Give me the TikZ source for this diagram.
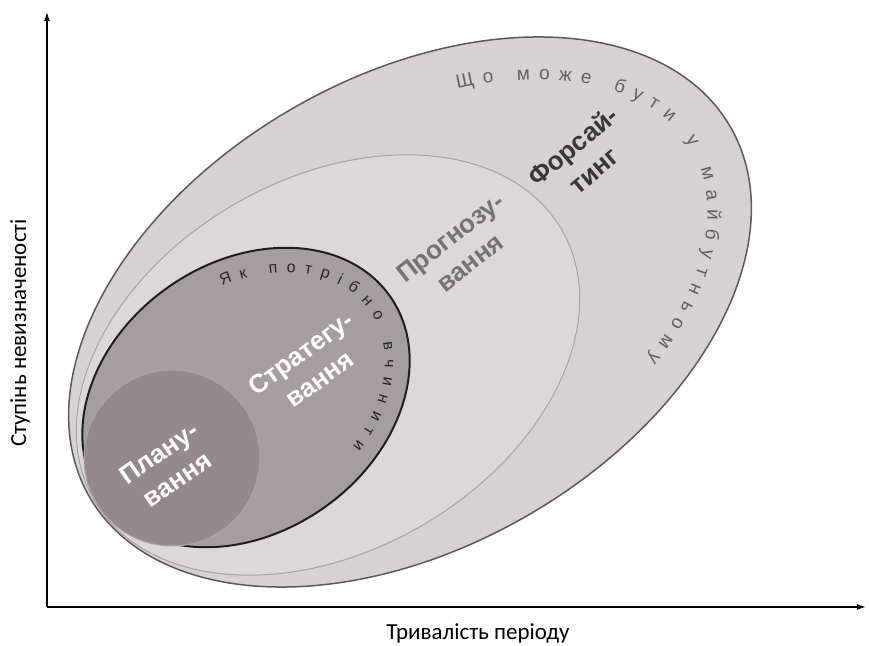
\documentclass[tikz,border=0pt]{standalone}
\usepackage{fontspec}
\setmainfont{Liberation Sans}
\newfontfamily\axisfont{Carlito}
\usetikzlibrary{arrows.meta,decorations.text}
\definecolor{outerfill}{HTML}{D6D2D3}
\definecolor{outerline}{HTML}{5A5A5A}
\definecolor{midfill}{HTML}{DCD8D9}
\definecolor{midline}{HTML}{A8A4A5}
\definecolor{stratfill}{HTML}{A59EA0}
\definecolor{stratline}{HTML}{1E1E1E}
\definecolor{planfill}{HTML}{928A8C}
\definecolor{planline}{HTML}{ABA4A6}
\newcommand{\zone}[7]{\draw[fill=#6,draw=#7,rotate around={#5:(#1,#2)}] (#1,#2) ellipse[x radius=#3pt,y radius=#4pt];}
\newcommand{\zonelabel}[6]{\node[rotate=#4,align=center,text=#5,font=\bfseries\fontsize{26}{32}\selectfont] (#1) at (#2,#3) {#6};}

\begin{document}
\begin{tikzpicture}[x=1pt,y=1pt]
    \useasboundingbox (0,0) rectangle (869,645);
    \zone{410}{333}{370}{235}{30}{outerfill}{outerline,line width=1.5pt}
    \zone{328}{280}{270}{186}{30}{midfill}{midline,line width=1pt}
    \zone{246}{247.5}{176}{135}{35}{stratfill}{stratline,line width=2pt}
    \draw[fill=planfill,draw=planline,line width=1pt] (172,187) circle[radius=88pt];
    \zonelabel{forsight}{583}{487}{40}{black!78}{Форсай-\\тинг}
    \zonelabel{prognoz}{460}{395}{38}{black!55}{Прогнозу-\\вання}
    \zonelabel{strateg}{310}{279}{36}{white}{Стратегу-\\вання}
    \zonelabel{plan}{168}{179}{35}{white}{Плану-\\вання}
    % curved texts
    \begin{scope}[shift={(410,333)},rotate=30]
    \path[decorate,decoration={text along path,text align=fit to path,text color=black!62,
        text={|\fontsize{19}{21}\selectfont|Що може бути у майбутньому}}]
        (62:325pt and 192pt) arc[start angle=62,end angle=-56,x radius=325pt,y radius=192pt];
    \end{scope}
    \begin{scope}[shift={(246,247.5)},rotate=35]
    \path[decorate,decoration={text along path,text align=fit to path,text color=black!85,
        text={|\fontsize{16}{18}\selectfont|Як потрібно вчинити}}]
        (73:151pt and 110pt) arc[start angle=73,end angle=-67,x radius=151pt,y radius=110pt];
    \end{scope}
    % axes
    \coordinate (origin) at (47,38);
    \coordinate (ytip) at (47,633);
    \coordinate (xtip) at (866,38);
    \draw[line width=1.3pt,-{Latex[length=9pt,width=6pt]}] (origin) -- (ytip);
    \draw[line width=1.3pt,-{Latex[length=9pt,width=6pt]}] (origin) -- (xtip);
    \node[font=\axisfont\fontsize{23}{26}\selectfont] (xlabel) at (478,12) {Тривалість періоду};
    \node[rotate=90,font=\axisfont\fontsize{23}{26}\selectfont] (ylabel) at (20,312) {Ступінь невизначеності};
\end{tikzpicture}
\end{document}
